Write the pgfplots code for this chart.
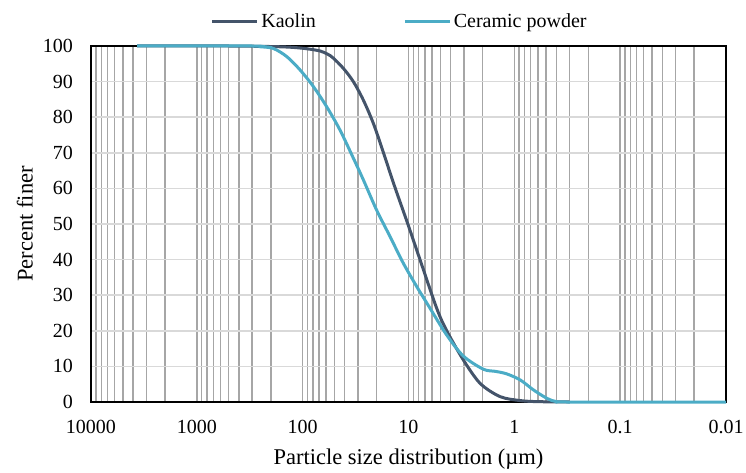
\documentclass[border=0pt]{standalone}
\usepackage{fontspec}
\setmainfont{Liberation Serif}
\usepackage{pgfplots}
\pgfplotsset{compat=1.18}
\definecolor{kaolin}{HTML}{44546A}
\definecolor{ceramic}{HTML}{4BACC6}
\definecolor{vgrid}{HTML}{A6A6A6}
\definecolor{hgrid}{HTML}{D9D9D9}
\begin{document}
\begin{tikzpicture}
\begin{axis}[
  scale only axis,
  width=635pt, height=356pt,
  xmode=log, x dir=reverse,
  xmin=0.01, xmax=10000,
  ymin=0, ymax=100,
  xtick={0.01,0.1,1,10,100,1000,10000},
  xticklabels={0.01,0.1,1,10,100,1000,10000},
  minor xtick={0.02,0.03,0.04,0.05,0.06,0.07,0.08,0.09,
               0.2,0.3,0.4,0.5,0.6,0.7,0.8,0.9,
               2,3,4,5,6,7,8,9,
               20,30,40,50,60,70,80,90,
               200,300,400,500,600,700,800,900,
               2000,3000,4000,5000,6000,7000,8000,9000},
  ytick={0,10,...,100},
  yticklabels={0,10,20,30,40,50,60,70,80,90,100},
  xmajorgrids, xminorgrids, ymajorgrids,
  major x grid style={vgrid, line width=1.4pt},
  minor x grid style={vgrid, line width=1.4pt},
  major y grid style={hgrid, line width=1.6pt},
  major tick length=0pt, minor tick length=0pt,
  axis line style={black, line width=1.5pt},
  /pgf/number format/assume math mode=true,
  tick label style={font=\rmfamily\fontsize{20}{24}\selectfont},
  yticklabel style={inner sep=0pt, xshift=-18pt},
  xticklabel style={inner sep=0pt, yshift=-18pt},
  xlabel={Particle size distribution (µm)},
  ylabel={Percent finer},
  label style={font=\rmfamily\fontsize{22.5}{26}\selectfont},
  xlabel style={at={(ticklabel cs:0.5)}, anchor=base, yshift=-31pt},
  ylabel style={at={(ticklabel cs:0.5)}, anchor=center, yshift=18pt},
  clip=false,
  legend columns=2,
  legend style={draw=none, fill=none, at={(0.5,1.0702)}, anchor=center, xshift=-8.5pt,
    font=\rmfamily\fontsize{20}{24}\selectfont,
    nodes={inner sep=2.5pt},
    /tikz/every even column/.append style={column sep=85pt}},
  legend image code/.code={\draw[#1] (0pt,0pt) -- (45pt,0pt);},
]
\addplot[kaolin, line width=3pt, smooth, tension=0.5] coordinates {
 (3670,100) (500,100) (250,99.9) (170,99.8) (122,99.6) (90,99.2) (68.5,98.6)
 (58,97.7) (51.3,96.6) (41.2,93.7) (33.2,90.0) (26.7,84.8) (21.5,78.3) (17.6,70.8)
 (13.5,60.5) (10.2,50.2) (7.77,39.9) (5.41,26.3) (4.35,20.0) (3.03,11.8)
 (2.10,5.2) (1.36,1.5) (0.88,0.4) (0.6,0.1) (0.3,0)
};
\addlegendentry{Kaolin}
\addplot[ceramic, line width=3pt, smooth, tension=0.5] coordinates {
 (3670,100) (300,100) (253,99.8) (189,99.3) (141,97.0) (106,93.3) (79.2,88.6)
 (59.2,82.9) (44.4,76.4) (33.2,68.5) (26.7,62.4) (20,53.9) (14.9,46.4)
 (11.2,39.0) (8.35,32.4) (6.4,26.8) (4.35,18.8) (3.03,12.9) (1.96,9.2)
 (1.5,8.6) (1.18,7.9) (0.88,6.2) (0.66,3.4) (0.49,1.0) (0.40,0.1) (0.30,0) (0.01,0)
};
\addlegendentry{Ceramic powder}
\end{axis}
\pgfresetboundingbox
\path ([shift={(-408.5pt,-248pt)}]current axis.center) rectangle ([shift={(337.5pt,224pt)}]current axis.center);
\end{tikzpicture}
\end{document}
